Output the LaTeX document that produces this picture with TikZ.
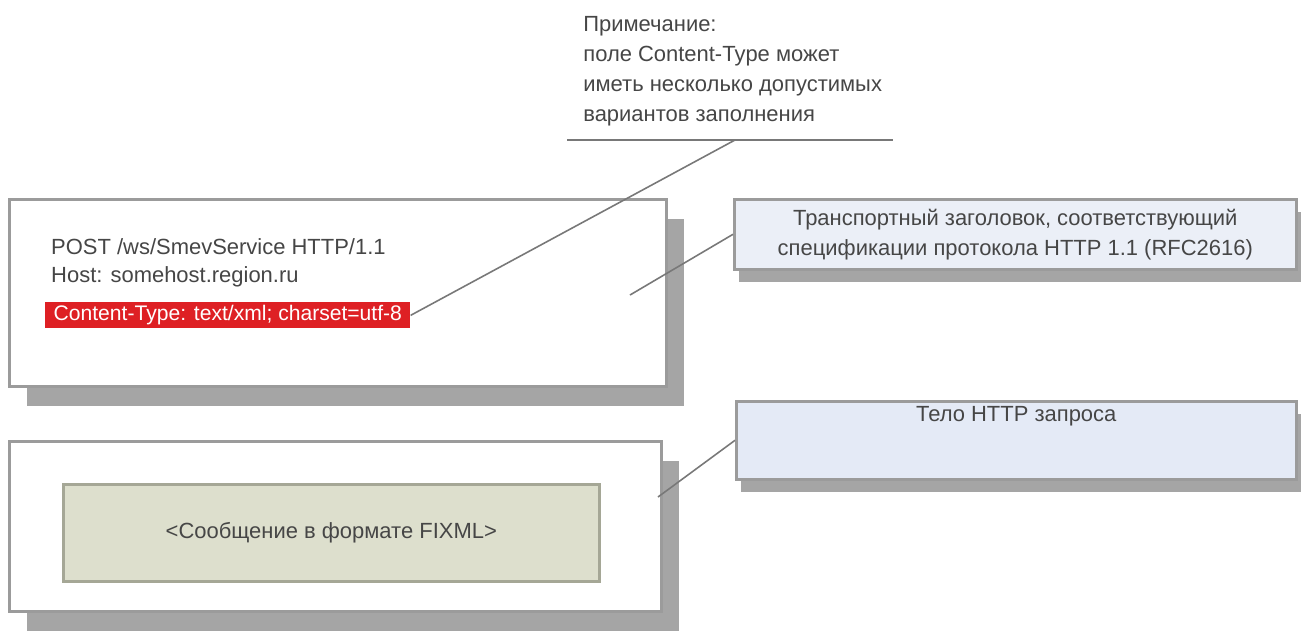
\documentclass[tikz,border=0pt]{standalone}
\usepackage{fontspec}
\setmainfont{Liberation Sans}
\usetikzlibrary{shadows}

\begin{document}
\begin{tikzpicture}[x=0.02cm,y=-0.02cm,
  panel/.style={draw=frame,line width=1.5pt,fill=white,anchor=north west,inner sep=0pt,
    drop shadow={shadow xshift=0.35cm,shadow yshift=-0.4cm,fill=shade,opacity=1}},
  note/.style={draw=frame,line width=1.5pt,anchor=north west,inner sep=0pt,
    drop shadow={shadow xshift=0.1cm,shadow yshift=-0.25cm,fill=shade,opacity=1}},
  txt/.style={font=\fontsize{12.5}{17}\selectfont,text=ink},
  link/.style={draw=wire,line width=0.9pt}]
% Define colours
\definecolor{frame}{RGB}{155,155,155}
\definecolor{shade}{RGB}{165,165,165}
\definecolor{hdr}{RGB}{235,239,247}
\definecolor{bodyfill}{RGB}{228,234,246}
\definecolor{msg}{RGB}{221,223,205}
\definecolor{msgline}{RGB}{165,167,150}
\definecolor{ctype}{RGB}{222,32,36}
\definecolor{ink}{RGB}{70,70,70}
\definecolor{wire}{RGB}{120,120,120}
\useasboundingbox (0,0) rectangle (1306,637);

% Draw request boxes
\node[panel,minimum width=13.14cm,minimum height=3.74cm] (request) at (8,198) {};
\node[panel,minimum width=13.04cm,minimum height=3.4cm] (payload) at (8,440) {};
\node[draw=msgline,line width=1.5pt,fill=msg,anchor=north west,minimum width=10.72cm,
  minimum height=1.94cm,txt] (message) at (62,483) {<Сообщение в формате FIXML>};

% Add header lines
\node[txt,anchor=west] (post) at (45,247) {POST /ws/SmevService HTTP/1.1};
\node[txt,anchor=west] (host) at (45,277) {Host: somehost.region.ru};
\node[fill=ctype,anchor=north west,minimum width=7.3cm,minimum height=0.52cm,inner sep=0pt,
  text=white,font=\fontsize{12}{14}\selectfont] (content) at (45,302) {Content-Type: text/xml; charset=utf-8};

% Draw callouts
\node[note,fill=hdr,minimum width=11.24cm,minimum height=1.4cm,txt,align=center]
  (transport) at (733,198) {Транспортный заголовок, соответствующий\\спецификации протокола HTTP 1.1 (RFC2616)};
\node[note,fill=bodyfill,minimum width=11.2cm,minimum height=1.56cm] (body) at (735,400) {};
\node[txt,below] (bodytext) at (body.north) {Тело HTTP запроса};

% Add remark
\node[txt,anchor=north west,align=left,inner sep=0pt] (remark) at (583,16)
  {Примечание:\\поле Content-Type может\\иметь несколько допустимых\\вариантов заполнения};
\coordinate (ruleA) at (567,140);
\coordinate (ruleB) at (893,140);
\coordinate (ruleM) at (735,140);
\draw[link] (ruleA) -- (ruleB);
\draw[link] (ruleM) -- (content.east);

% Connect callouts
\coordinate (hdrend) at (630,295);
\coordinate (bodyend) at (658,497);
\draw[link] (hdrend) -- (transport.west);
\draw[link] (bodyend) -- (body.west);
\end{tikzpicture}
\end{document}
